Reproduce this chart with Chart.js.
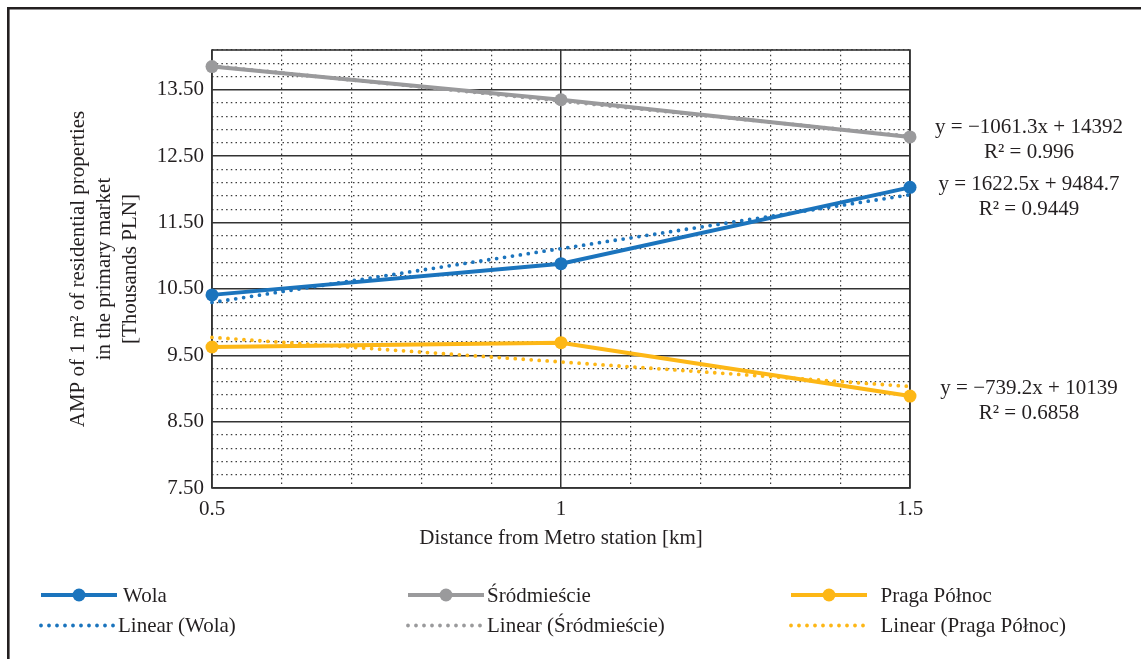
<!DOCTYPE html>
<html>
<head>
<meta charset="utf-8">
<script src="https://cdn.jsdelivr.net/npm/chart.js@4.4.1/dist/chart.umd.min.js"></script>
<style>
  html, body { margin: 0; padding: 0; background: #ffffff; }
  #wrap { width: 1141px; height: 659px; position: relative; }
</style>
</head>
<body>
<div id="wrap"><canvas id="chart" width="1141" height="659"></canvas></div>
<script>
// Distance from the nearest Metro station [km]
const distanceKm = [0.5, 1, 1.5];

// Average price of 1 m² on the primary market [thousand PLN]
const wolaValues = [10.41, 10.88, 12.03];
const srodmiescieValues = [13.85, 13.35, 12.79];
const pragaPolnocValues = [9.625, 9.69, 8.885];

const seriesNames = ['Wola', 'Śródmieście', 'Praga Północ'];

// Linear trend lines (y in PLN, x in km)
const trendSlopes = [1622.5, -1061.3, -739.2];
const trendIntercepts = [9484.7, 14392, 10139];
const trendR2 = ['0.9449', '0.996', '0.6858'];

// Axis ticks
const yMajorValues = [7.5, 8.5, 9.5, 10.5, 11.5, 12.5, 13.5];
const yTickLabels = ['7.50', '8.50', '9.50', '10.50', '11.50', '12.50', '13.50'];
const xMajorValues = [0.5, 1, 1.5];
const xTickLabels = ['0.5', '1', '1.5'];

const BLUE = '#1b74bd';
const GREY = '#9a9a9c';
const GOLD = '#fdb716';
const TEXT = '#231f20';
const seriesColors = [BLUE, GREY, GOLD];
const seriesValues = [wolaValues, srodmiescieValues, pragaPolnocValues];

const FONT = '"Liberation Serif", "Times New Roman", Times, serif';
const FONT_SIZE = 21;

function toPoints(values) {
  return distanceKm.map((d, i) => ({ x: d, y: values[i] }));
}
function trendPoints(k) {
  const ends = [distanceKm[0], distanceKm[distanceKm.length - 1]];
  return ends.map(d => ({ x: d, y: (trendSlopes[k] * d + trendIntercepts[k]) / 1000 }));
}
function findMajor(list, v) {
  return list.findIndex(m => Math.abs(m - v) < 1e-6);
}

const DOT_DASH = [0, 8];
const DOT_WIDTH = 3.8;

const datasets = [];
seriesNames.forEach((name, k) => {
  datasets.push({
    label: name,
    data: toPoints(seriesValues[k]),
    borderColor: seriesColors[k],
    backgroundColor: seriesColors[k],
    borderWidth: 4,
    pointRadius: 6.5,
    pointHoverRadius: 6.5,
    pointBorderWidth: 0,
    pointBackgroundColor: seriesColors[k],
    tension: 0,
    clip: false,
    order: 2
  });
  datasets.push({
    label: 'Linear (' + name + ')',
    data: trendPoints(k),
    borderColor: seriesColors[k],
    borderWidth: DOT_WIDTH,
    borderDash: DOT_DASH,
    borderCapStyle: 'round',
    pointRadius: 0,
    pointHoverRadius: 0,
    tension: 0,
    clip: false,
    order: 1
  });
});

// Outer frame of the figure (left and top edges)
const figureFrame = {
  id: 'figureFrame',
  beforeDraw(chart) {
    const ctx = chart.ctx;
    ctx.save();
    ctx.fillStyle = '#ffffff';
    ctx.fillRect(0, 0, chart.width, chart.height);
    ctx.strokeStyle = TEXT;
    ctx.lineWidth = 2.6;
    ctx.beginPath();
    ctx.moveTo(8.3, chart.height + 5);
    ctx.lineTo(8.3, 8.3);
    ctx.lineTo(chart.width + 5, 8.3);
    ctx.stroke();
    ctx.restore();
  }
};

// Box around the plotting area
const plotFrame = {
  id: 'plotFrame',
  beforeDatasetsDraw(chart) {
    const { ctx, chartArea: a } = chart;
    ctx.save();
    ctx.strokeStyle = '#333333';
    ctx.lineWidth = 1.6;
    ctx.strokeRect(a.left, a.top, a.right - a.left, a.bottom - a.top);
    ctx.restore();
  }
};

// Regression equations next to the right edge
const eqLayout = { centerX: 1029, firstLineY: [184, 127, 388], lineGap: 25 };
const trendEquations = {
  id: 'trendEquations',
  afterDatasetsDraw(chart) {
    const ctx = chart.ctx;
    ctx.save();
    ctx.font = FONT_SIZE + 'px ' + FONT;
    ctx.fillStyle = TEXT;
    ctx.textAlign = 'center';
    ctx.textBaseline = 'middle';
    seriesNames.forEach((n, k) => {
      const s = trendSlopes[k];
      const eq = 'y = ' + (s < 0 ? '\u2212' : '') + Math.abs(s) + 'x + ' + trendIntercepts[k];
      const y0 = eqLayout.firstLineY[k];
      ctx.fillText(eq, eqLayout.centerX, y0);
      ctx.fillText('R\u00b2 = ' + trendR2[k], eqLayout.centerX, y0 + eqLayout.lineGap);
    });
    ctx.restore();
  }
};

// Legend: three columns, series on the first row, trend lines on the second
const legendLayout = {
  rows: [595, 625.5],
  columns: [
    { x0: 41, x1: 117, text: [123, 118] },
    { x0: 408, x1: 484, text: [487, 487] },
    { x0: 791, x1: 867, text: [880.5, 880.5] }
  ]
};
const bottomLegend = {
  id: 'bottomLegend',
  afterDraw(chart) {
    const ctx = chart.ctx;
    ctx.save();
    ctx.font = FONT_SIZE + 'px ' + FONT;
    ctx.textBaseline = 'middle';
    ctx.textAlign = 'left';
    seriesNames.forEach((name, k) => {
      const col = legendLayout.columns[k];
      const c = seriesColors[k];
      // series sample
      let y = legendLayout.rows[0];
      ctx.strokeStyle = c;
      ctx.fillStyle = c;
      ctx.lineWidth = 4;
      ctx.setLineDash([]);
      ctx.lineCap = 'butt';
      ctx.beginPath();
      ctx.moveTo(col.x0, y);
      ctx.lineTo(col.x1, y);
      ctx.stroke();
      ctx.beginPath();
      ctx.arc((col.x0 + col.x1) / 2, y, 6.5, 0, Math.PI * 2);
      ctx.fill();
      ctx.fillStyle = TEXT;
      ctx.fillText(name, col.text[0], y + 1);
      // trend sample
      y = legendLayout.rows[1];
      ctx.strokeStyle = c;
      ctx.lineWidth = DOT_WIDTH;
      ctx.lineCap = 'round';
      ctx.setLineDash(DOT_DASH);
      ctx.beginPath();
      ctx.moveTo(col.x0, y);
      ctx.lineTo(col.x1, y);
      ctx.stroke();
      ctx.setLineDash([]);
      ctx.fillStyle = TEXT;
      ctx.fillText('Linear (' + name + ')', col.text[1], y + 1);
    });
    ctx.restore();
  }
};

const MINOR_DASH = [1.5, 3.2];
const MAJOR_GRID = '#333333';
const MINOR_GRID = '#3c3c3c';

new Chart(document.getElementById('chart'), {
  type: 'line',
  data: { datasets },
  plugins: [figureFrame, plotFrame, trendEquations, bottomLegend],
  options: {
    responsive: false,
    animation: false,
    devicePixelRatio: 1,
    events: [],
    layout: { padding: { left: 0, right: 231, top: 50, bottom: 101 } },
    plugins: { legend: { display: false }, tooltip: { enabled: false } },
    scales: {
      x: {
        type: 'linear',
        min: 0.5,
        max: 1.5,
        afterFit(scale) { scale.height = 70; },
        ticks: {
          stepSize: 0.1,
          autoSkip: false,
          maxRotation: 0,
          padding: 9,
          color: TEXT,
          font: { family: FONT, size: FONT_SIZE },
          callback(v) {
            const i = findMajor(xMajorValues, v);
            return i >= 0 ? xTickLabels[i] : '';
          }
        },
        grid: {
          drawTicks: false,
          color(ctx) {
            return ctx.tick && findMajor(xMajorValues, ctx.tick.value) >= 0 ? MAJOR_GRID : MINOR_GRID;
          },
          lineWidth(ctx) {
            return ctx.tick && findMajor(xMajorValues, ctx.tick.value) >= 0 ? 1.5 : 1.2;
          }
        },
        border: {
          display: false,
          dash(ctx) {
            return ctx.tick && findMajor(xMajorValues, ctx.tick.value) < 0 ? MINOR_DASH : [];
          }
        },
        title: {
          display: true,
          text: 'Distance from Metro station [km]',
          color: TEXT,
          font: { family: FONT, size: FONT_SIZE, lineHeight: 1.2 },
          padding: { top: 0, bottom: 7 }
        }
      },
      y: {
        type: 'linear',
        min: 7.5,
        max: 14.1,
        afterFit(scale) { scale.width = 212; },
        ticks: {
          stepSize: 0.2,
          maxTicksLimit: 60,
          autoSkip: false,
          padding: 8,
          color: TEXT,
          font: { family: FONT, size: FONT_SIZE },
          callback(v) {
            const i = findMajor(yMajorValues, v);
            return i >= 0 ? yTickLabels[i] : '';
          }
        },
        grid: {
          drawTicks: false,
          color(ctx) {
            return ctx.tick && findMajor(yMajorValues, ctx.tick.value) >= 0 ? MAJOR_GRID : MINOR_GRID;
          },
          lineWidth(ctx) {
            return ctx.tick && findMajor(yMajorValues, ctx.tick.value) >= 0 ? 1.5 : 1.2;
          }
        },
        border: {
          display: false,
          dash(ctx) {
            return ctx.tick && findMajor(yMajorValues, ctx.tick.value) < 0 ? MINOR_DASH : [];
          }
        },
        title: {
          display: true,
          text: ['AMP of 1 m\u00b2 of residential properties', 'in the primary market', '[Thousands PLN]'],
          color: TEXT,
          font: { family: FONT, size: FONT_SIZE, lineHeight: 1.25 },
          padding: { top: 65, bottom: 0 }
        }
      }
    }
  }
});
</script>
</body>
</html>
